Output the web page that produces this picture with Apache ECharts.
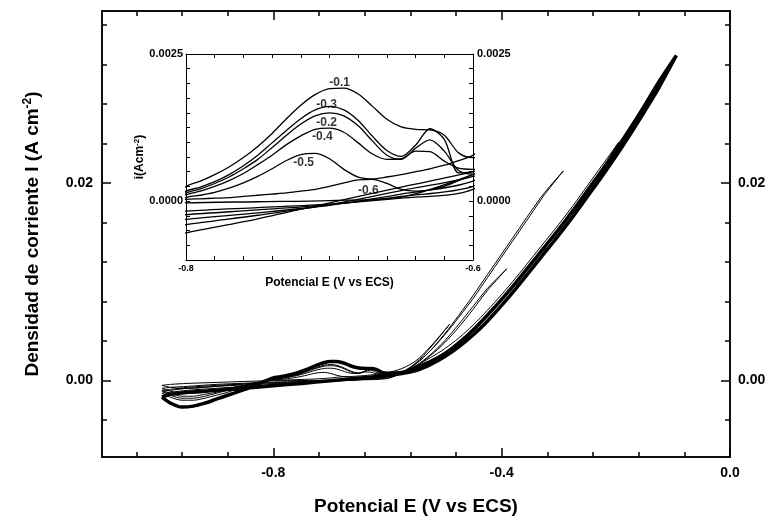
<!DOCTYPE html>
<html>
<head>
<meta charset="utf-8">
<script src="https://cdn.jsdelivr.net/npm/echarts@6/dist/echarts.min.js"></script>
<style>
    html, body { margin: 0; padding: 0; background: #fff; }
    #chart { width: 777px; height: 524px; }
</style>
</head>
<body>
<div id="chart"></div>
<script>
// potentials of the forward (anodic) sweep, V vs ECS
var eFwd = [-0.995, -0.98, -0.96, -0.94, -0.92, -0.90, -0.88, -0.86, -0.84, -0.82,
    -0.80, -0.79, -0.78, -0.77, -0.76, -0.75, -0.74, -0.73, -0.72, -0.71,
    -0.70, -0.69, -0.68, -0.67, -0.66, -0.65, -0.64, -0.63, -0.62, -0.61, -0.60,
    -0.575, -0.55, -0.525, -0.50, -0.475, -0.45, -0.425, -0.40, -0.375, -0.35,
    -0.325, -0.30, -0.275, -0.25, -0.225, -0.20, -0.175, -0.15, -0.125, -0.10]

// potentials of the reverse sweep (each cycle uses the tail from its own limit)
var eRev = [-0.10, -0.125, -0.15, -0.175, -0.20, -0.225, -0.25, -0.275, -0.30, -0.325,
    -0.35, -0.375, -0.40, -0.425, -0.45, -0.475, -0.50, -0.525, -0.55, -0.575,
    -0.60, -0.65, -0.70, -0.75, -0.80, -0.85, -0.90, -0.95, -0.98, -0.995]

// where each sweep actually turned round (slight overshoot of the nominal limit)
var eSwitch = [-0.094, -0.195, -0.292, -0.391, -0.491, -0.595]

// current density, A cm-2, forward sweeps (from -0.995 V up to the switching potential)
var iFwd01 = [-0.0017, -0.0023, -0.0027, -0.0026, -0.0023, -0.0019, -0.0015, -0.0011, -0.0007, -0.0002,
    0.00025, 0.00034, 0.00045, 0.00058, 0.00074, 0.00093, 0.00115, 0.00140, 0.00163, 0.00181,
    0.00191, 0.00192, 0.00182, 0.00161, 0.00139, 0.00126, 0.00122, 0.00121, 0.00112, 0.00082, 0.00074,
    0.0008, 0.0013, 0.0019, 0.0027, 0.0038, 0.0051, 0.0066, 0.0082, 0.0099, 0.0117,
    0.0135, 0.0153, 0.0172, 0.0192, 0.0212, 0.0233, 0.0255, 0.0278, 0.0302, 0.0329]
var iFwd02 = [-0.0013, -0.0017, -0.0020, -0.0020, -0.0018, -0.0015, -0.0012, -0.0008, -0.0005, -0.0001,
    0.00014, 0.00021, 0.00030, 0.00041, 0.00055, 0.00071, 0.00091, 0.00112, 0.00131, 0.00145,
    0.00150, 0.00145, 0.00128, 0.00102, 0.00078, 0.00071, 0.00090, 0.00104, 0.00085, 0.00052, 0.00046,
    0.0008, 0.0015, 0.0023, 0.0032, 0.0043, 0.0056, 0.0071, 0.0087, 0.0104, 0.0122,
    0.0140, 0.0158, 0.0177, 0.0197, 0.0217, 0.0241]
var iFwd03 = [-0.0011, -0.0015, -0.0018, -0.0018, -0.0016, -0.0013, -0.0010, -0.0007, -0.0004, -0.0001,
    0.00017, 0.00024, 0.00033, 0.00045, 0.00060, 0.00078, 0.00099, 0.00120, 0.00140, 0.00155,
    0.00161, 0.00155, 0.00137, 0.00110, 0.00086, 0.00076, 0.00095, 0.00123, 0.00105, 0.00048, 0.00050,
    0.0008, 0.0017, 0.0030, 0.0047, 0.0066, 0.0086, 0.0107, 0.0128, 0.0149, 0.0170,
    0.0190, 0.0212]
var iFwd04 = [-0.0010, -0.0013, -0.0016, -0.0016, -0.0014, -0.0012, -0.0009, -0.0006, -0.0004, -0.0001,
    0.00011, 0.00017, 0.00025, 0.00035, 0.00047, 0.00062, 0.00078, 0.00096, 0.00111, 0.00122,
    0.00124, 0.00117, 0.00099, 0.00080, 0.00071, 0.00072, 0.00085, 0.00084, 0.00068, 0.00056, 0.00054,
    0.0008, 0.0015, 0.0026, 0.0040, 0.0057, 0.0075, 0.0093, 0.0113]
var iFwd05 = [-0.0008, -0.0011, -0.0013, -0.0013, -0.0012, -0.0010, -0.0008, -0.0006, -0.0004, -0.0002,
    0.00006, 0.00010, 0.00015, 0.00022, 0.00031, 0.00042, 0.00055, 0.00069, 0.00079, 0.00081,
    0.00072, 0.00054, 0.00041, 0.00038, 0.00041, 0.00045, 0.00050, 0.00055, 0.00061, 0.00069, 0.00078,
    0.0012, 0.0020, 0.0034, 0.0057]
var iFwd06 = [-0.0005, -0.0007, -0.0008, -0.0008, -0.0007, -0.0006, -0.0005, -0.0004, -0.0003, -0.0001,
    0.00003, 0.00004, 0.00005, 0.00006, 0.00008, 0.00010, 0.00012, 0.00014, 0.00017, 0.00020,
    0.00025, 0.00031, 0.00036, 0.00037, 0.00030, 0.00020, 0.00017, 0.00019, 0.00025, 0.00035, 0.00050]

// reverse sweeps (from the switching potential back to -0.995 V)
var iRev01 = [0.0329, 0.0296, 0.0272, 0.0249, 0.0227, 0.0206, 0.0186, 0.0166, 0.0147, 0.0129,
    0.0111, 0.0093, 0.0076, 0.0060, 0.0046, 0.0034, 0.0024, 0.0016, 0.0010, 0.0007,
    0.0005, 0.00024, -0.00003, -0.0003, -0.00054, -0.0008, -0.0010, -0.0012, -0.0014, -0.0017]
var iRev02 = [0.0241, 0.0213, 0.0192, 0.0172, 0.0153, 0.0135, 0.0117, 0.0099, 0.0082, 0.0066,
    0.0051, 0.0038, 0.0027, 0.0018, 0.0011, 0.0007, 0.00042, 0.00018, -0.00006, -0.00024,
    -0.0004, -0.0006, -0.0008, -0.0010, -0.0012, -0.0013]
var iRev03 = [0.0212, 0.0188, 0.0167, 0.0146, 0.0125, 0.0104, 0.0083, 0.0064, 0.0046, 0.0030,
    0.0017, 0.0008, 0.00034, 0.00012, -0.00007, -0.0002, -0.00031, -0.00045, -0.0006, -0.0008,
    -0.0010, -0.0011]
var iRev04 = [0.0113, 0.0091, 0.0072, 0.0054, 0.0038, 0.0025, 0.0014, 0.0007, 0.00025, 0.00008,
    -0.00006, -0.00015, -0.00023, -0.00035, -0.0005, -0.0007, -0.0009, -0.0010]
var iRev05 = [0.0057, 0.0033, 0.0018, 0.0008, 0.0002, 0.00005, -0.00005, -0.00011, -0.00017, -0.00028,
    -0.0004, -0.0006, -0.0007, -0.0008]
var iRev06 = [0.0005, 0.00007, 0.00001, -0.00001, -0.00003, -0.0001, -0.0002, -0.0003, -0.0004, -0.0005]

// switching-potential labels written in the inset
var labelText = ['-0.1', '-0.3', '-0.2', '-0.4', '-0.5', '-0.6']
var labelE = [-0.693, -0.702, -0.702, -0.705, -0.718, -0.673]
var labelI = [0.00201, 0.00164, 0.00134, 0.00110, 0.00065, 0.00017]

// tick values
var xMajor = [-0.8, -0.4, 0.0]
var xMinor = [-1.04, -0.96, -0.88, -0.72, -0.64, -0.56, -0.48, -0.32, -0.24, -0.16, -0.08]
var yMajor = [0.00, 0.02]
var yMinor = [-0.004, 0.004, 0.008, 0.012, 0.016, 0.024, 0.028, 0.032, 0.036]
var insetXTicks = [-0.78, -0.76, -0.74, -0.72, -0.70, -0.68, -0.66, -0.64, -0.62]
var insetXLabels = [-0.8, -0.6]
var insetYTicks = [-0.00075, -0.0005, -0.00025, 0, 0.00025, 0.0005, 0.00075, 0.001, 0.00125,
    0.0015, 0.00175, 0.002, 0.00225]
var insetYLabels = [0.0, 0.0025]

var FONT = 'Liberation Sans'

var cycles = [
    { fwd: iFwd01, rev: iRev01, width: 3.5 },
    { fwd: iFwd02, rev: iRev02, width: 1 },
    { fwd: iFwd03, rev: iRev03, width: 1 },
    { fwd: iFwd04, rev: iRev04, width: 1 },
    { fwd: iFwd05, rev: iRev05, width: 1 },
    { fwd: iFwd06, rev: iRev06, width: 1 }
]

var toPoints = function (c, k) {
    var pts = []
    var last = c.fwd.length - 1
    for (var i = 0; i < c.fwd.length; i++) {
        pts.push([i == last ? eSwitch[k] : eFwd[i], c.fwd[i]])
    }
    var off = eRev.length - c.rev.length
    // first reverse point is the switching point, already in the forward list
    for (var j = 1; j < c.rev.length; j++) {
        pts.push([eRev[off + j], c.rev[j]])
    }
    return pts
}

var makeAxis = function (o) {
    var lw = o.lineWidth || 1
    return {
        type: 'value',
        gridIndex: o.grid,
        position: o.position,
        min: o.min,
        max: o.max,
        splitLine: { show: false },
        axisLine: { show: o.line !== false, onZero: false, lineStyle: { color: '#000', width: lw } },
        axisTick: { show: true, inside: true, length: o.tickLen, customValues: o.ticks,
            lineStyle: { color: '#000', width: lw } },
        axisLabel: o.labels ? {
            show: true,
            customValues: o.labels,
            margin: o.margin,
            formatter: function (v) { return v.toFixed(o.digits) },
            color: '#000',
            fontFamily: FONT,
            fontWeight: 'bold',
            fontSize: o.fontSize
        } : { show: false },
        name: o.name || '',
        nameLocation: 'middle',
        nameGap: o.nameGap || 0,
        nameTextStyle: o.nameStyle || {}
    }
}

var xTitleStyle = { color: '#000', fontFamily: FONT, fontWeight: 'bold', fontSize: 19 }
var yTitleStyle = {
    color: '#000', fontFamily: FONT, fontWeight: 'bold', fontSize: 19,
    rich: {
        sup: { color: '#000', fontFamily: FONT, fontWeight: 'bold', fontSize: 12, verticalAlign: 'top', padding: [0, 0, 9, 0] }
    }
}
var insetXTitle = { color: '#000', fontFamily: FONT, fontWeight: 'bold', fontSize: 12 }
var insetYTitle = {
    color: '#000', fontFamily: FONT, fontWeight: 'bold', fontSize: 12,
    rich: {
        sup: { color: '#000', fontFamily: FONT, fontWeight: 'bold', fontSize: 8, verticalAlign: 'top', padding: [0, 0, 6, 0] }
    }
}

var xAxes = [
    makeAxis({ grid: 0, position: 'bottom', min: -1.1, max: 0, ticks: xMajor, tickLen: 9, lineWidth: 1.5,
        labels: xMajor, digits: 1, fontSize: 14, margin: 9,
        name: 'Potencial E (V vs ECS)', nameGap: 40, nameStyle: xTitleStyle }),
    makeAxis({ grid: 0, position: 'bottom', min: -1.1, max: 0, ticks: xMinor, tickLen: 5, lineWidth: 1.5 }),
    makeAxis({ grid: 0, position: 'top', min: -1.1, max: 0, ticks: xMajor, tickLen: 9, lineWidth: 1.5 }),
    makeAxis({ grid: 0, position: 'top', min: -1.1, max: 0, ticks: xMinor, tickLen: 5, lineWidth: 1.5 }),
    makeAxis({ grid: 1, position: 'bottom', min: -0.8, max: -0.6, ticks: insetXTicks, tickLen: 4,
        labels: insetXLabels, digits: 1, fontSize: 9, margin: 4,
        name: 'Potencial E (V vs ECS)', nameGap: 17, nameStyle: insetXTitle }),
    makeAxis({ grid: 1, position: 'top', min: -0.8, max: -0.6, ticks: insetXTicks, tickLen: 4 })
]

var yAxes = [
    makeAxis({ grid: 0, position: 'left', min: -0.00775, max: 0.0374, ticks: yMajor, tickLen: 9, lineWidth: 1.5,
        labels: yMajor, digits: 2, fontSize: 14, margin: 9,
        name: 'Densidad de corriente I (A cm{sup|-2})', nameGap: 59, nameStyle: yTitleStyle }),
    makeAxis({ grid: 0, position: 'left', min: -0.00775, max: 0.0374, ticks: yMinor, tickLen: 5, lineWidth: 1.5 }),
    makeAxis({ grid: 0, position: 'right', min: -0.00775, max: 0.0374, ticks: yMajor, tickLen: 9, lineWidth: 1.5,
        labels: yMajor, digits: 2, fontSize: 14, margin: 8 }),
    makeAxis({ grid: 0, position: 'right', min: -0.00775, max: 0.0374, ticks: yMinor, tickLen: 5, lineWidth: 1.5 }),
    makeAxis({ grid: 1, position: 'left', min: -0.001, max: 0.0025, ticks: insetYTicks, tickLen: 4,
        labels: insetYLabels, digits: 4, fontSize: 11, margin: 3,
        name: 'i(Acm{sup|-2})', nameGap: 34, nameStyle: insetYTitle }),
    makeAxis({ grid: 1, position: 'right', min: -0.001, max: 0.0025, ticks: insetYTicks, tickLen: 4,
        labels: insetYLabels, digits: 4, fontSize: 11, margin: 4 })
]

var series = []
for (var k = 0; k < cycles.length; k++) {
    var pts = toPoints(cycles[k], k)
    series.push({
        type: 'line', xAxisIndex: 0, yAxisIndex: 0, data: pts,
        symbol: 'none', smooth: 0.3, silent: true,
        lineStyle: { color: '#000', width: cycles[k].width }
    })
    series.push({
        type: 'line', xAxisIndex: 4, yAxisIndex: 4, data: pts,
        symbol: 'none', smooth: 0.3, silent: true, clip: true,
        lineStyle: { color: '#000', width: 1.3 }
    })
}

var labelData = []
for (var n = 0; n < labelText.length; n++) {
    labelData.push({ name: labelText[n], value: [labelE[n], labelI[n]] })
}
series.push({
    type: 'scatter', xAxisIndex: 4, yAxisIndex: 4, data: labelData,
    symbolSize: 1, silent: true,
    itemStyle: { color: 'rgba(0,0,0,0)' },
    label: {
        show: true, position: 'inside',
        formatter: function (p) { return p.name },
        color: '#000', fontFamily: FONT, fontWeight: 'bold', fontSize: 12
    }
})

var option = {
    animation: false,
    backgroundColor: '#fff',
    grid: [
        { left: 102, top: 11, width: 628, height: 446 },
        { left: 186, top: 54, width: 287, height: 206 }
    ],
    xAxis: xAxes,
    yAxis: yAxes,
    series: series
}

echarts.init(document.getElementById('chart')).setOption(option)
</script>
</body>
</html>
